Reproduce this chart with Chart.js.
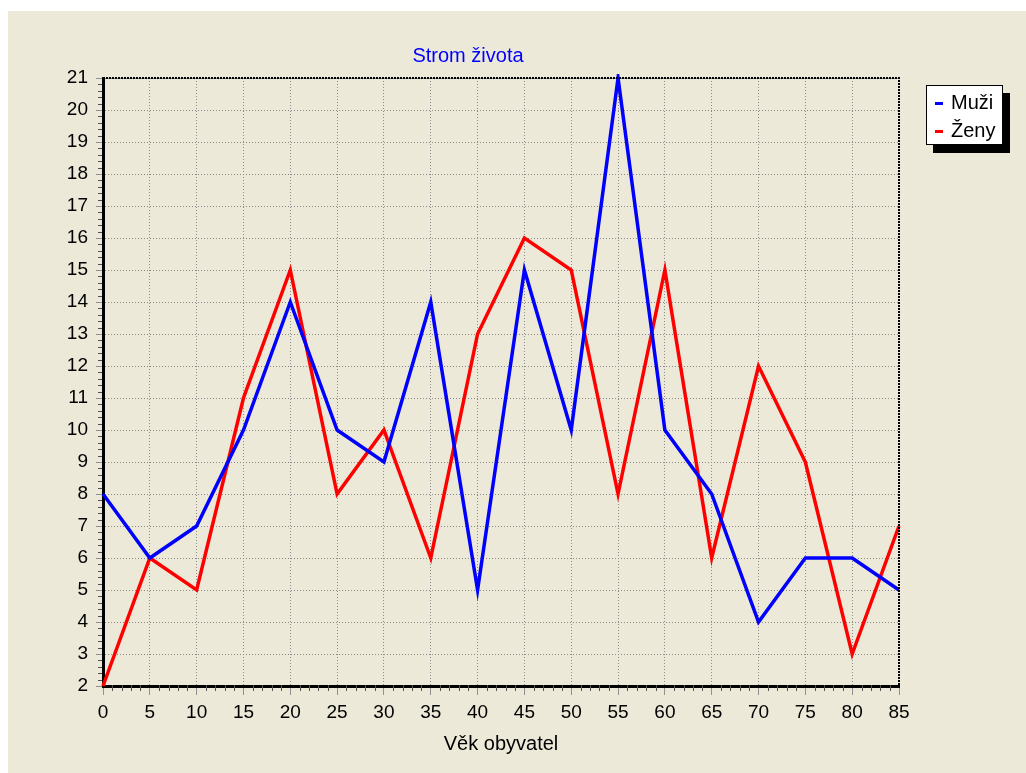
<!DOCTYPE html>
<html>
<head>
<meta charset="utf-8">
<script src="https://cdn.jsdelivr.net/npm/chart.js@4"></script>
<style>
  html, body { margin: 0; padding: 0; background: #ffffff; }
  #wrap { position: absolute; left: 8px; top: 11px; width: 1018px; height: 762px; background: #ece9d8; }
</style>
</head>
<body>
<div id="wrap"><canvas id="chart"></canvas></div>
<script>
const ages = [0, 5, 10, 15, 20, 25, 30, 35, 40, 45, 50, 55, 60, 65, 70, 75, 80, 85];
const muzi = [8, 6, 7, 10, 14, 10, 9, 14, 5, 15, 10, 21, 10, 8, 4, 6, 6, 5];
const zeny = [2, 6, 5, 11, 15, 8, 10, 6, 13, 16, 15, 8, 15, 6, 12, 9, 3, 7];
const seriesNames = ['Muži', 'Ženy'];
const chartTitle = 'Strom života';
const xTitle = 'Věk obyvatel';

const FONT = '"Liberation Sans", Arial, sans-serif';

// title, axis title, minor ticks, dotted frame and the boxed legend
const extras = {
  id: 'extras',
  afterDraw(chart) {
    const { ctx, chartArea: a, scales: { x, y } } = chart;
    ctx.save();

    // minor ticks on x
    ctx.strokeStyle = '#505050';
    ctx.lineWidth = 1;
    for (let v = x.min; v <= x.max; v += 1) {
      if (v % 5 === 0) continue;
      const px = Math.round(x.getPixelForValue(v)) + 0.5;
      ctx.beginPath();
      ctx.moveTo(px, a.bottom - 1);
      ctx.lineTo(px, a.bottom + 5);
      ctx.stroke();
    }
    // minor ticks on y
    for (let v = y.min; v < y.max; v += 1) {
      for (let k = 1; k < 5; k++) {
        const py = Math.round(y.getPixelForValue(v + k / 5)) + 0.5;
        ctx.beginPath();
        ctx.moveTo(a.left - 5, py);
        ctx.lineTo(a.left - 1, py);
        ctx.stroke();
      }
    }

    // dotted top and right frame
    ctx.strokeStyle = '#000000';
    ctx.lineWidth = 2;
    ctx.setLineDash([2, 1]);
    ctx.beginPath();
    ctx.moveTo(a.left, a.top);
    ctx.lineTo(a.right, a.top);
    ctx.lineTo(a.right, a.bottom);
    ctx.stroke();
    ctx.setLineDash([]);

    // chart title
    ctx.fillStyle = '#0000ff';
    ctx.font = '20px ' + FONT;
    ctx.textAlign = 'center';
    ctx.textBaseline = 'middle';
    ctx.fillText(chartTitle, 460, 45);

    // x axis title
    ctx.fillStyle = '#000000';
    ctx.font = '20px ' + FONT;
    ctx.fillText(xTitle, (a.left + a.right) / 2, 733);

    // legend box with shadow
    const bx = 918, by = 74, bw = 77, bh = 60;
    ctx.fillStyle = '#000000';
    ctx.fillRect(bx + 7, by + 8, bw, bh);
    ctx.fillStyle = '#ffffff';
    ctx.fillRect(bx, by, bw, bh);
    ctx.strokeStyle = '#000000';
    ctx.lineWidth = 1;
    ctx.strokeRect(bx + 0.5, by + 0.5, bw - 1, bh - 1);
    const colors = ['#0000ff', '#ff0000'];
    ctx.textAlign = 'left';
    ctx.font = '20px ' + FONT;
    seriesNames.forEach((name, i) => {
      const ry = by + 18 + i * 28;
      ctx.fillStyle = colors[i];
      ctx.fillRect(bx + 9, ry - 1, 8, 3);
      ctx.fillStyle = '#000000';
      ctx.fillText(name, bx + 25, ry);
    });

    ctx.restore();
  },
};

const ctx = document.getElementById('chart').getContext('2d');

new Chart(ctx, {
  type: 'line',
  data: {
    datasets: [{
      label: seriesNames[0],
      data: ages.map((a, i) => ({ x: a, y: muzi[i] })),
      borderColor: '#0000ff',
      backgroundColor: '#0000ff',
      borderWidth: 3.5,
      tension: 0,
      pointRadius: 0,
      clip: 4,
    }, {
      label: seriesNames[1],
      data: ages.map((a, i) => ({ x: a, y: zeny[i] })),
      borderColor: '#ff0000',
      backgroundColor: '#ff0000',
      borderWidth: 3.5,
      tension: 0,
      pointRadius: 0,
      clip: 4,
    }],
  },
  options: {
    responsive: true,
    maintainAspectRatio: false,
    animation: false,
    layout: {
      padding: { left: 0, top: 67, right: 127, bottom: 0 },
    },
    plugins: {
      legend: { display: false },
      title: { display: false },
      tooltip: { enabled: false },
    },
    scales: {
      x: {
        type: 'linear',
        min: 0,
        max: 85,
        afterFit: (s) => { s.height = 87; },
        ticks: {
          stepSize: 5,
          color: '#000000',
          padding: 6,
          maxRotation: 0,
          font: { family: FONT, size: 19 },
        },
        grid: {
          color: '#8a8a8a',
          lineWidth: 1,
          tickLength: 9,
          tickColor: '#909090',
        },
        border: { color: '#000000', width: 3, dash: [1, 2] },
      },
      y: {
        min: 2,
        max: 21,
        afterFit: (s) => { s.width = 95; },
        ticks: {
          stepSize: 1,
          color: '#000000',
          padding: 8,
          font: { family: FONT, size: 19 },
        },
        grid: {
          color: '#8a8a8a',
          lineWidth: 1,
          tickLength: 7,
          tickColor: '#909090',
        },
        border: { color: '#000000', width: 3, dash: [1, 2] },
      },
    },
  },
  plugins: [extras],
});
</script>
</body>
</html>
